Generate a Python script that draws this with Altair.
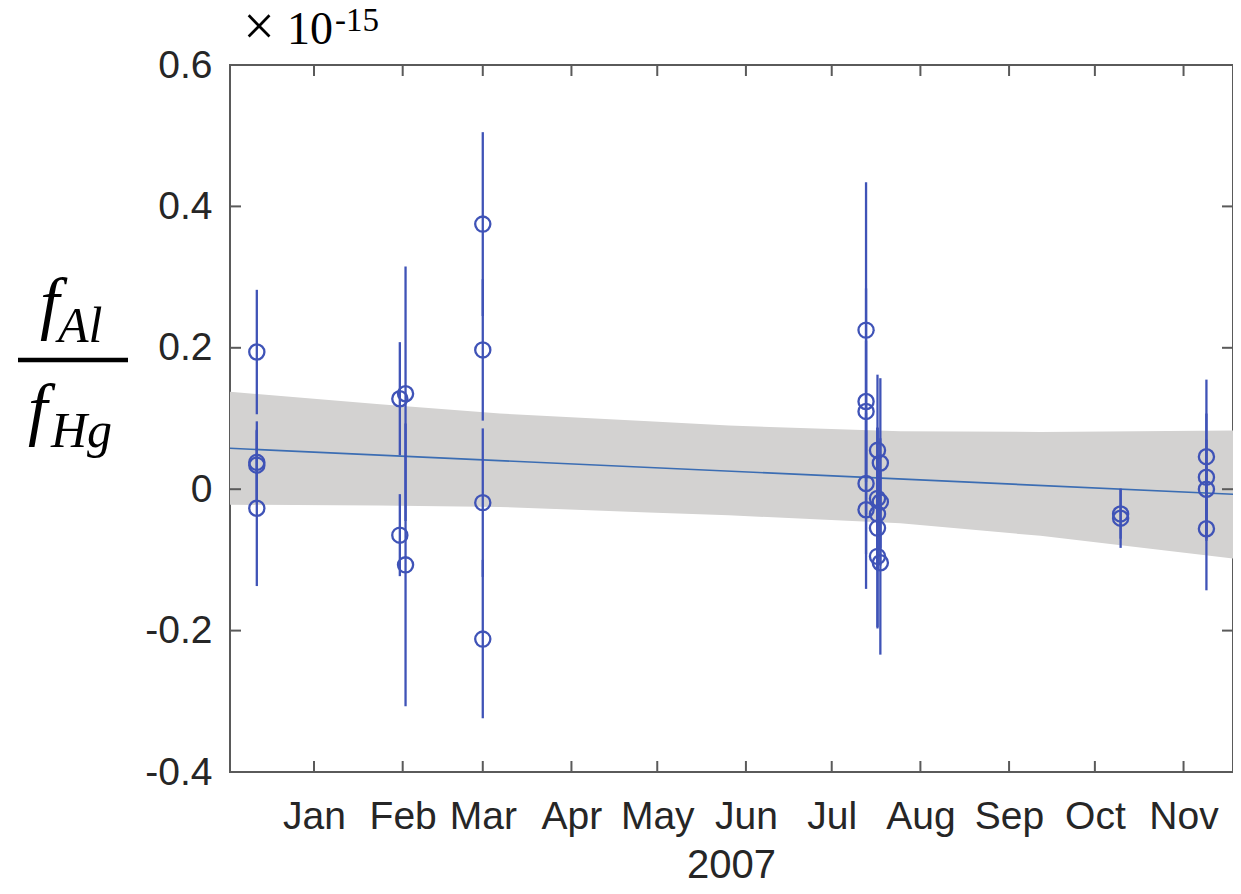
import altair as alt
import pandas as pd

# ---------------- data ----------------
pt_dates = (
    ["2006-12-12"] * 4
    + ["2007-01-31"] * 2
    + ["2007-02-02"] * 2
    + ["2007-03-01"] * 4
    + ["2007-07-13"] * 5
    + ["2007-07-17"] * 5
    + ["2007-07-18"] * 3
    + ["2007-10-10"] * 2
    + ["2007-11-09"] * 4
)
pt_vals = [
    0.194, 0.038, 0.034, -0.027,
    0.128, -0.065,
    0.135, -0.107,
    0.375, 0.197, -0.019, -0.212,
    0.225, 0.124, 0.110, 0.008, -0.029,
    0.055, -0.013, -0.035, -0.055, -0.095,
    0.037, -0.018, -0.104,
    -0.035, -0.041,
    0.046, 0.017, 0.000, -0.056,
]
pt_errs = [
    0.088, 0.058, 0.050, 0.110,
    0.080, 0.058,
    0.180, 0.200,
    0.130, 0.100, 0.105, 0.112,
    0.209, 0.160, 0.100, 0.100, 0.112,
    0.107, 0.100, 0.080, 0.142, 0.100,
    0.120, 0.090, 0.130,
    0.035, 0.042,
    0.109, 0.090, 0.070, 0.087,
]

band_dates = ["2006-12-02", "2007-01-24", "2007-03-07", "2007-04-28",
              "2007-05-26", "2007-07-25", "2007-09-12", "2007-11-20"]
band_hi = [0.138, 0.120, 0.107, 0.096, 0.090, 0.082, 0.081, 0.083]
band_lo = [-0.022, -0.023, -0.025, -0.033, -0.037, -0.048, -0.066, -0.099]

fit_dates = ["2006-12-02", "2007-11-20"]
fit_vals = [0.058, -0.0075]

month_ticks = ["2007-01-01", "2007-02-01", "2007-03-01", "2007-04-01",
               "2007-05-01", "2007-06-01", "2007-07-01", "2007-08-01",
               "2007-09-01", "2007-10-01", "2007-11-01"]
y_ticks = [-0.4, -0.2, 0.0, 0.2, 0.4, 0.6]
x_title = "2007"

# ---------------- tables ----------------
pts = pd.DataFrame({"date": pt_dates, "v": pt_vals, "e": pt_errs})
pts["lo"] = pts["v"] - pts["e"]
pts["hi"] = pts["v"] + pts["e"]
band = pd.DataFrame({"date": band_dates, "hi": band_hi, "lo": band_lo})
fit = pd.DataFrame({"date": fit_dates, "v": fit_vals})
mticks = pd.DataFrame({"date": month_ticks})
yticks = pd.DataFrame({"v": y_ticks})

# ---------------- style ----------------
W, H = 1003, 707
TXT = "#262626"
AX = "#5a5a5a"
PT = "#3f53b7"
FIT = "#3b6db3"
BAND = "#d3d2d1"
SANS = "Liberation Sans"
SERIF = "Liberation Serif"

x_scale = alt.Scale(
    type="utc",
    domain=[alt.DateTime(year=2006, month=12, date=2, hours=15, utc=True),
            alt.DateTime(year=2007, month=11, date=18, hours=7, utc=True)],
)
y_scale = alt.Scale(domain=[-0.4, 0.6], nice=False, zero=False)

x_axis = alt.Axis(
    values=[alt.DateTime(year=2007, month=m, date=1, utc=True) for m in range(1, 12)],
    format="%b", title=None, grid=False, ticks=False, tickSize=0, domain=False,
    labelFont=SANS, labelFontSize=39, labelColor=TXT, labelPadding=25,
    labelOverlap=False,
)
y_axis = alt.Axis(
    values=y_ticks, title=None, grid=False, ticks=False, tickSize=0, domain=False,
    labelFont=SANS, labelFontSize=39, labelColor=TXT, labelPadding=18,
    labelExpr="toString(round(datum.value*10)/10)",
)


def X(field="date"):
    return alt.X(f"{field}:T", scale=x_scale, axis=x_axis)


def Y(field):
    return alt.Y(f"{field}:Q", scale=y_scale, axis=y_axis)


area = alt.Chart(band).mark_area(color=BAND, opacity=1, clip=True).encode(
    x=X(), y=Y("hi"), y2="lo:Q"
)
line = alt.Chart(fit).mark_line(color=FIT, strokeWidth=1.6, clip=True).encode(
    x=X(), y=Y("v")
)
bars = alt.Chart(pts).mark_rule(color=PT, strokeWidth=2.3).encode(
    x=X(), y=Y("hi"), y2="lo:Q"
)
points = alt.Chart(pts).mark_point(
    shape="circle", filled=False, size=230, strokeWidth=2.3, color=PT, opacity=1
).encode(x=X(), y=Y("v"))

tick_bottom = alt.Chart(mticks).mark_rule(color=AX, strokeWidth=2).encode(
    x=X(), y=alt.value(H), y2=alt.value(H - 11)
)
tick_top = alt.Chart(mticks).mark_rule(color=AX, strokeWidth=2).encode(
    x=X(), y=alt.value(0), y2=alt.value(11)
)
tick_left = alt.Chart(yticks).mark_rule(color=AX, strokeWidth=2).encode(
    y=Y("v"), x=alt.value(0), x2=alt.value(11)
)
tick_right = alt.Chart(yticks).mark_rule(color=AX, strokeWidth=2).encode(
    y=Y("v"), x=alt.value(W), x2=alt.value(W - 11)
)


def txt(s, x, y, size, font=SERIF, style="normal", align="left", color="black"):
    return alt.Chart(pd.DataFrame({"t": [s]})).mark_text(
        font=font, fontSize=size, fontStyle=style, align=align,
        baseline="alphabetic", color=color
    ).encode(text="t:N", x=alt.value(x), y=alt.value(y))


# x title
title = txt(x_title, W / 2, 813, 40, font=SANS, align="center", color=TXT)

# exponent marker
times_sign = txt("×", 29, -20, 56, align="center")
ten = txt("10", 57, -21, 46)
expo = txt("-15", 105, -34, 33)

# y label: f_Al / f_Hg
f_num = txt("f", -190, 261, 70, style="italic")
al = txt("Al", -172, 277, 50, style="italic")
frac = alt.Chart(pd.DataFrame({"t": [0]})).mark_rule(color="black", strokeWidth=4.5).encode(
    x=alt.value(-212), x2=alt.value(-102), y=alt.value(295)
)
f_den = txt("f", -202, 367, 70, style="italic")
hg = txt("Hg", -179, 382, 50, style="italic")

chart = alt.layer(
    area, line, bars, points,
    tick_bottom, tick_top, tick_left, tick_right,
    title, times_sign, ten, expo, f_num, al, frac, f_den, hg,
).properties(
    width=W, height=H,
    padding={"left": 222, "top": 57, "right": 0, "bottom": 114},
    autosize=alt.AutoSizeParams(type="none"),
).configure_view(stroke=AX, strokeWidth=2)

chart.save("out.html", embed_options={"renderer": "svg", "actions": False})
